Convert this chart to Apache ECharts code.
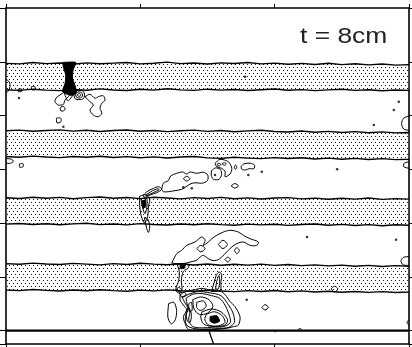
<!DOCTYPE html>
<html>
<head>
<meta charset="utf-8">
<script src="https://cdn.jsdelivr.net/npm/echarts@6/dist/echarts.min.js"></script>
<style>
  html, body { margin: 0; padding: 0; background: #fff; }
  #chart { width: 412px; height: 347px; }
</style>
</head>
<body>
<div id="chart"></div>
<script>
// Horizontal position (cm) where the layer boundaries are sampled
const edgeX = [0,1,2,3,4,5,6,7,8,9,10,11,12,13,14,15,16,17,18,19,20,21,22,23,24,25,26,27,28,29,30];

// Upper and lower boundary depth (cm) of each dotted layer
const layer1Top = [4.12,4.16,4.06,4.14,4.09,4.19,4.08,4.15,4.10,4.05,4.16,4.11,4.03,4.14,4.09,4.17,4.08,4.13,4.06,4.16,4.10,4.18,4.12,4.20,4.11,4.21,4.15,4.23,4.17,4.25,4.21];
const layer1Bot = [6.08,6.13,6.04,6.11,6.15,6.06,6.12,6.02,6.10,6.14,6.05,6.11,6.01,6.09,6.13,6.04,6.11,6.06,6.14,6.08,6.03,6.12,6.07,6.15,6.09,6.05,6.13,6.08,6.16,6.10,6.13];
const layer2Top = [9.13,9.09,9.17,9.11,9.07,9.16,9.10,9.19,9.12,9.08,9.17,9.11,9.20,9.13,9.09,9.18,9.12,9.21,9.14,9.10,9.19,9.23,9.15,9.25,9.18,9.26,9.20,9.28,9.22,9.29,9.26];
const layer2Bot = [11.05,11.10,11.02,11.09,11.13,11.05,11.11,11.03,11.12,11.06,11.14,11.08,11.16,11.09,11.05,11.15,11.19,11.11,11.17,11.21,11.13,11.20,11.14,11.23,11.17,11.25,11.19,11.27,11.21,11.28,11.25];
const layer3Top = [14.12,14.17,14.08,14.15,14.09,14.19,14.11,14.06,14.16,14.10,14.18,14.08,14.14,14.20,14.11,14.17,14.09,14.19,14.13,14.21,14.14,14.11,14.20,14.15,14.23,14.16,14.22,14.14,14.24,14.18,14.22];
const layer3Bot = [16.08,16.03,16.11,16.05,16.13,16.06,16.02,16.12,16.07,16.14,16.04,16.11,16.15,16.07,16.13,16.05,16.12,16.16,16.08,16.14,16.09,16.17,16.11,16.07,16.16,16.10,16.18,16.12,16.20,16.13,16.17];
const layer4Top = [19.02,19.07,18.98,19.05,19.09,19.00,19.06,19.11,19.02,19.08,18.99,19.06,19.10,19.03,19.12,19.05,19.14,19.07,19.13,19.06,19.15,19.09,19.17,19.11,19.19,19.13,19.21,19.15,19.23,19.17,19.21];
const layer4Bot = [20.98,21.03,20.95,21.01,21.06,20.98,21.04,20.96,21.03,21.07,20.99,21.05,20.97,21.04,21.08,21.00,21.06,21.10,21.03,21.09,21.02,21.11,21.05,21.13,21.07,21.15,21.09,21.16,21.10,21.17,21.13];

// Closed concentration contours near the first layer
const plumeUpper = [
  [[4.39,6.23],[4.02,6.47],[3.72,6.70],[3.65,6.97],[3.89,7.22],[4.27,7.17],[4.39,6.85],[4.64,6.60],[4.77,6.35],[4.39,6.23]],
  [[4.02,7.50],[4.10,7.36],[4.30,7.34],[4.40,7.50],[4.30,7.65],[4.10,7.66],[4.02,7.50]],
  [[5.05,6.47],[5.15,6.20],[5.44,6.12],[5.75,6.20],[5.85,6.47],[5.75,6.75],[5.44,6.82],[5.15,6.75],[5.05,6.47]],
  [[5.18,6.47],[5.25,6.30],[5.44,6.24],[5.63,6.30],[5.70,6.47],[5.63,6.64],[5.44,6.70],[5.25,6.64],[5.18,6.47]],
  [[5.30,6.47],[5.44,6.36],[5.58,6.47],[5.44,6.58],[5.30,6.47]],
  [[5.88,6.60],[6.25,6.42],[6.63,6.72],[6.87,6.60],[7.24,6.53],[7.37,6.85],[7.13,7.09],[7.00,7.46],[7.13,7.83],[6.87,8.09],[6.50,7.96],[6.25,7.59],[6.50,7.22],[6.25,6.97],[5.88,6.60]],
  [[1.90,5.85],[2.15,5.85],[2.15,6.08],[1.90,6.08],[1.90,5.85]],
  [[0.90,6.05],[1.15,6.02],[1.18,6.20],[0.92,6.22],[0.90,6.05]],
  [[3.75,8.20],[4.05,8.18],[4.10,8.45],[3.80,8.55],[3.75,8.20]],
  [[1.00,11.60],[1.25,11.58],[1.28,11.80],[1.02,11.85],[1.00,11.60]]
];

// Contours around the middle layers
const plumeMiddle = [
  [[9.95,14.00],[10.40,13.90],[10.70,14.20],[10.60,14.80],[10.55,15.50],[10.30,16.00],[10.05,15.40],[9.95,14.70],[9.95,14.00]],
  [[10.05,14.20],[10.45,14.15],[10.50,14.70],[10.35,15.30],[10.15,14.80],[10.05,14.20]],
  [[10.30,15.60],[10.55,15.70],[10.70,16.30],[10.60,16.70],[10.45,16.30],[10.30,15.60]],
  [[10.18,13.99],[10.48,13.67],[10.97,13.42],[11.34,13.30],[11.59,13.49],[11.22,13.74],[10.72,13.91],[10.35,14.08],[10.18,13.99]],
  [[10.40,13.92],[10.90,13.60],[11.30,13.45],[11.40,13.52],[11.00,13.72],[10.50,13.95],[10.40,13.92]],
  [[11.59,13.49],[11.71,13.04],[12.08,12.85],[12.26,12.50],[12.71,12.30],[13.16,12.20],[13.45,12.35],[13.70,12.20],[14.20,12.30],[14.69,12.22],[15.02,12.43],[14.99,12.85],[14.57,13.04],[14.07,13.00],[13.70,13.10],[13.40,13.30],[13.08,13.49],[12.58,13.59],[12.08,13.67],[11.71,13.67],[11.59,13.49]],
  [[13.20,12.70],[13.45,12.52],[13.70,12.70],[13.45,12.88],[13.20,12.70]],
  [[15.30,12.10],[15.60,11.90],[15.95,12.00],[16.05,12.40],[15.85,12.75],[15.45,12.75],[15.28,12.45],[15.30,12.10]],
  [[15.56,11.56],[15.93,11.26],[16.55,11.44],[16.81,11.93],[16.68,12.35],[16.31,12.55],[16.31,12.18],[16.06,11.93],[15.69,11.81],[15.56,11.56]],
  [[15.70,11.65],[15.85,11.55],[16.00,11.65],[15.85,11.75],[15.70,11.65]],
  [[16.10,11.60],[16.25,11.50],[16.40,11.60],[16.25,11.70],[16.10,11.60]],
  [[16.98,11.84],[17.08,11.68],[17.18,11.84],[17.08,12.00],[16.98,11.84]],
  [[17.50,11.80],[17.70,11.60],[18.20,11.55],[18.50,11.70],[18.45,11.95],[18.10,11.95],[17.85,12.05],[17.55,12.00],[17.50,11.80]],
  [[16.76,13.23],[17.03,13.06],[17.30,13.23],[17.03,13.40],[16.76,13.23]]
];

// Contours around the lowest layer and the bed
const plumeLower = [
  [[12.34,18.97],[12.71,18.28],[13.08,18.03],[13.45,17.66],[14.07,17.41],[14.57,17.04],[14.82,17.28],[14.69,17.66],[15.06,17.41],[15.32,17.17],[15.69,16.91],[16.18,16.67],[16.68,16.54],[17.30,16.67],[17.67,16.91],[18.17,17.17],[18.79,17.41],[18.67,17.66],[18.17,17.66],[17.67,17.41],[17.18,17.53],[16.81,17.78],[16.43,18.15],[16.06,18.53],[15.69,18.77],[15.32,18.77],[15.06,18.65],[14.69,18.40],[14.45,18.53],[14.20,18.77],[13.70,18.90],[13.20,19.03],[12.71,19.03],[12.34,18.97]],
  [[14.20,17.90],[14.50,17.66],[14.82,17.90],[14.50,18.15],[14.20,17.90]],
  [[15.80,17.60],[16.15,17.28],[16.48,17.60],[16.15,17.90],[15.80,17.60]],
  [[17.00,18.05],[17.18,17.83],[17.37,18.05],[17.18,18.28],[17.00,18.05]],
  [[16.30,18.72],[16.50,18.53],[16.70,18.72],[16.50,18.90],[16.30,18.72]],
  [[12.75,19.10],[13.40,19.00],[13.60,19.30],[13.20,19.60],[13.05,20.30],[13.10,20.90],[12.90,21.10],[12.65,20.90],[12.85,20.30],[12.90,19.60],[12.75,19.10]],
  [[12.60,21.00],[12.85,20.80],[13.10,21.00],[12.85,21.20],[12.60,21.00]],
  [[15.30,21.10],[15.50,20.40],[15.65,19.90],[15.85,19.65],[16.05,19.80],[16.00,20.40],[15.95,21.00],[15.30,21.10]],
  [[15.60,20.90],[15.70,20.30],[15.85,19.90],[15.90,20.40],[15.80,20.90],[15.60,20.90]],
  [[12.96,21.35],[13.33,21.11],[13.95,20.98],[14.57,20.86],[15.19,20.98],[15.56,20.98],[16.06,21.11],[16.43,21.48],[16.68,21.85],[17.05,22.22],[17.42,22.97],[17.30,23.59],[16.93,23.71],[16.43,23.83],[15.69,23.91],[14.94,23.91],[14.20,23.96],[13.57,23.91],[13.33,23.46],[13.20,22.97],[13.45,22.47],[13.20,22.10],[12.96,21.73],[12.96,21.35]],
  [[13.10,21.50],[13.60,21.30],[14.30,21.10],[15.20,21.20],[16.00,21.40],[16.50,22.00],[16.90,22.70],[17.00,23.40],[16.60,23.75],[15.80,23.85],[14.80,23.90],[14.00,23.85],[13.45,23.60],[13.35,23.00],[13.55,22.40],[13.30,21.90],[13.10,21.50]],
  [[13.40,21.60],[13.90,21.30],[14.60,21.25],[15.30,21.40],[15.90,21.60],[16.30,22.10],[16.60,22.80],[16.70,23.40],[16.20,23.70],[15.40,23.75],[14.60,23.80],[13.90,23.70],[13.60,23.20],[13.70,22.60],[13.50,22.10],[13.40,21.60]],
  [[13.90,21.70],[14.50,21.50],[15.10,21.70],[15.40,22.20],[15.00,22.70],[14.40,22.80],[14.00,22.40],[13.90,21.70]],
  [[14.20,21.90],[14.70,21.80],[14.90,22.20],[14.50,22.50],[14.20,22.30],[14.20,21.90]],
  [[14.60,22.60],[15.30,22.40],[16.00,22.60],[16.50,23.20],[16.30,23.60],[15.40,23.70],[14.70,23.50],[14.50,23.00],[14.60,22.60]],
  [[14.90,22.80],[15.50,22.60],[16.10,22.90],[16.30,23.40],[15.80,23.65],[15.10,23.60],[14.80,23.20],[14.90,22.80]],
  [[13.60,22.00],[13.80,21.90],[13.85,22.50],[13.65,22.60],[13.60,22.00]],
  [[13.40,22.60],[13.60,22.30],[13.80,22.80],[13.70,23.40],[13.50,23.30],[13.40,22.60]],
  [[12.90,21.20],[13.30,21.15],[13.40,21.40],[13.10,21.50],[12.90,21.20]],
  [[12.10,22.00],[12.50,21.90],[12.70,22.50],[12.60,23.20],[12.30,23.50],[12.05,23.00],[12.10,22.00]],
  [[19.04,22.27],[19.28,22.07],[19.53,22.27],[19.28,22.47],[19.04,22.27]],
  [[24.20,20.90],[24.45,20.70],[24.70,20.90],[24.45,21.13],[24.20,20.90]]
];

// Dense cores drawn as solid patches
const cores = [
  [[4.20,4.05],[5.20,4.05],[5.00,4.60],[4.95,5.20],[5.15,5.80],[5.25,6.30],[4.90,6.50],[4.50,6.40],[4.20,6.20],[4.40,5.60],[4.45,5.00],[4.30,4.50],[4.20,4.05]],
  [[10.12,14.35],[10.38,14.30],[10.40,14.80],[10.20,14.85],[10.12,14.35]],
  [[12.95,19.15],[13.30,19.12],[13.30,19.35],[13.00,19.40],[12.95,19.15]],
  [[15.20,22.95],[15.70,22.90],[15.90,23.30],[15.50,23.45],[15.20,23.30],[15.20,22.95]]
];

// Contours cut by the side walls (open lines)
const wallContours = [
  [[0,5.30],[0.25,5.50],[0.30,5.85],[0.15,6.20],[0,6.30]],
  [[0,11.20],[0.40,11.25],[0.55,11.40],[0.35,11.55],[0,11.55]],
  [[30,8.05],[29.60,8.20],[29.45,8.60],[29.60,9.00],[30,9.10]],
  [[30,11.44],[29.65,11.55],[29.60,11.80],[30,11.93]],
  [[30,18.50],[29.60,18.55],[29.40,18.80],[29.55,19.10],[30,19.15]],
  [[30,23.19],[29.85,23.40],[30,23.60]],
  [[4.30,6.20],[4.60,6.90],[4.90,6.60],[5.10,6.20]],
  [[21.67,24.00],[21.88,23.85],[22.09,24.00]]
];

// Isolated small contour specks
const specks = [[0.97,6.70],[4.27,8.83],[13.20,13.34],[13.83,13.42],[15.56,12.43],[18.04,12.43],[19.04,12.18],[17.92,21.70],[22.41,17.04],[29.04,17.24],[20.05,24.03],[27.38,8.71],[24.65,12.00],[29.24,6.97],[28.87,7.59],[17.80,5.11]];

// Bed line and the inclined segment below it
const bedLine = [[0,24.0],[30,24.0]];
const bedStep = [[15.10,24.0],[15.45,25.0]];

const layers = [
  [layer1Top, layer1Bot],
  [layer2Top, layer2Bot],
  [layer3Top, layer3Bot],
  [layer4Top, layer4Bot]
];

// Stipple pattern for the layers
const tile = document.createElement('canvas');
tile.width = 4; tile.height = 6;
const tctx = tile.getContext('2d');
tctx.fillStyle = '#fff';
tctx.fillRect(0, 0, 4, 6);
tctx.fillStyle = '#111';
tctx.fillRect(1, 1, 1, 1);
tctx.fillRect(3, 4, 1, 1);

const chart = echarts.init(document.getElementById('chart'), null, { renderer: 'canvas' });

function loopSeries(loops, opts) {
  return {
    type: 'custom',
    coordinateSystem: 'cartesian2d',
    clip: true,
    silent: true,
    data: loops.map((_, i) => [i]),
    renderItem: function (params, api) {
      const pts = loops[params.dataIndex].map(p => api.coord(p));
      return {
        type: opts.closed ? 'polygon' : 'polyline',
        shape: { points: pts, smooth: opts.smooth },
        style: { stroke: '#000', lineWidth: opts.width, fill: opts.fill || null }
      };
    }
  };
}

const axisCommon = {
  type: 'value',
  axisLabel: { show: false },
  splitLine: { show: false },
  axisLine: { show: true, onZero: false, lineStyle: { color: '#000', width: 1.6 } },
  axisTick: { show: true, inside: false, lineStyle: { color: '#000', width: 1 } }
};

chart.setOption({
  animation: false,
  backgroundColor: '#fff',
  grid: { left: 6, right: 3, top: 8, bottom: 3, containLabel: false },
  xAxis: [
    Object.assign({}, axisCommon, { position: 'bottom', min: 0, max: 30, interval: 10, axisTick: Object.assign({}, axisCommon.axisTick, { length: 4 }) }),
    Object.assign({}, axisCommon, { position: 'top', min: 0, max: 30, interval: 10, axisTick: Object.assign({}, axisCommon.axisTick, { length: 4 }) })
  ],
  yAxis: [
    Object.assign({}, axisCommon, { position: 'left', inverse: true, min: 0, max: 25, interval: 4, axisTick: Object.assign({}, axisCommon.axisTick, { length: 6 }) }),
    Object.assign({}, axisCommon, { position: 'right', inverse: true, min: 0, max: 25, interval: 4, axisTick: Object.assign({}, axisCommon.axisTick, { length: 3 }) })
  ],
  graphic: [{
    type: 'text',
    x: 300,
    y: 26,
    scaleX: 1.2,
    style: { text: 't = 8cm', font: '22px "Liberation Sans", Arial, sans-serif', fill: '#222' }
  }],
  series: [
    {
      type: 'custom',
      coordinateSystem: 'cartesian2d',
      clip: true,
      silent: true,
      data: layers.map((_, i) => [i]),
      renderItem: function (params, api) {
        const top = layers[params.dataIndex][0];
        const bot = layers[params.dataIndex][1];
        const pts = [];
        for (let j = 0; j < edgeX.length; j++) pts.push(api.coord([edgeX[j], top[j]]));
        for (let j = edgeX.length - 1; j >= 0; j--) pts.push(api.coord([edgeX[j], bot[j]]));
        return {
          type: 'polygon',
          shape: { points: pts },
          style: { fill: { image: tile, repeat: 'repeat' }, stroke: '#000', lineWidth: 1.4 }
        };
      }
    },
    loopSeries(cores, { closed: true, smooth: 0.2, width: 1, fill: '#000' }),
    loopSeries(plumeUpper, { closed: true, smooth: 0.3, width: 1 }),
    loopSeries(plumeMiddle, { closed: true, smooth: 0.3, width: 1 }),
    loopSeries(plumeLower, { closed: true, smooth: 0.3, width: 1 }),
    loopSeries(wallContours, { closed: false, smooth: 0.3, width: 1 }),
    {
      type: 'scatter',
      silent: true,
      symbolSize: 2.5,
      itemStyle: { color: '#000' },
      data: specks
    },
    {
      type: 'line',
      silent: true,
      symbol: 'none',
      lineStyle: { color: '#000', width: 2.2 },
      data: bedLine
    },
    {
      type: 'line',
      silent: true,
      symbol: 'none',
      lineStyle: { color: '#000', width: 1.3 },
      data: bedStep
    }
  ]
});
</script>
</body>
</html>
